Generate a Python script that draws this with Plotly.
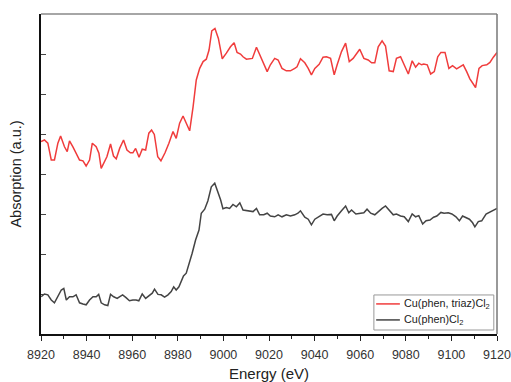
import plotly.graph_objects as go

# Energy (eV) and absorption (a.u.)
energy_red = [8920.0, 8921.5, 8923.0, 8924.5, 8925.9, 8927.4, 8928.6, 8930.3, 8931.5, 8932.5,
              8934.0, 8935.4, 8936.9, 8938.4, 8939.8, 8941.3, 8942.5, 8944.2, 8945.4, 8946.4,
              8947.9, 8948.9, 8950.5, 8951.8, 8953.0, 8954.5, 8956.2, 8957.7, 8959.2, 8960.3,
              8961.5, 8963.0, 8964.4, 8965.9, 8967.3, 8968.5, 8969.7, 8971.2, 8972.6, 8974.4,
              8976.1, 8977.9, 8979.3, 8980.8, 8982.3, 8983.7, 8985.2, 8986.7, 8988.1, 8989.6,
              8991.1, 8992.5, 8993.7, 8994.9, 8996.3, 8997.8, 8999.5, 9001.3, 9003.1, 9004.7,
              9006.0, 9007.5, 9008.6, 9010.1, 9012.7, 9014.5, 9015.9, 9017.7, 9019.2, 9020.6,
              9022.5, 9024.0, 9025.7, 9027.6, 9029.4, 9031.3, 9032.3, 9033.8, 9035.7, 9037.2,
              9038.6, 9040.1, 9042.0, 9043.7, 9045.2, 9047.0, 9048.6, 9049.9, 9051.8, 9053.6,
              9055.2, 9056.9, 9058.4, 9059.8, 9061.6, 9063.5, 9065.0, 9066.4, 9067.9, 9069.6,
              9071.1, 9072.7, 9074.5, 9075.9, 9077.7, 9079.3, 9081.1, 9082.8, 9084.3, 9085.7,
              9086.9, 9087.9, 9089.4, 9090.9, 9092.5, 9094.0, 9095.4, 9097.2, 9098.9, 9100.5,
              9102.3, 9103.7, 9105.2, 9106.7, 9108.1, 9109.6, 9110.6, 9112.1, 9113.5, 9115.5,
              9116.9, 9118.4, 9120.0]
absorption_red = [4.81, 4.85, 4.77, 4.35, 4.35, 4.77, 4.95, 4.68, 4.56, 4.83,
                  4.68, 4.52, 4.35, 4.33, 4.20, 4.35, 4.77, 4.68, 4.52, 4.14,
                  4.31, 4.43, 4.75, 4.45, 4.38, 4.64, 4.85, 4.60, 4.53, 4.53,
                  4.64, 4.42, 4.62, 4.60, 5.02, 5.10, 4.99, 4.43, 4.33, 4.53,
                  4.77, 5.06, 4.89, 5.27, 5.45, 5.25, 5.08, 5.68, 6.35, 6.64,
                  6.81, 6.87, 7.10, 7.58, 7.64, 7.39, 6.88, 7.02, 7.18, 7.28,
                  7.04, 7.00, 6.93, 6.87, 6.89, 7.17, 6.98, 6.73, 6.56, 6.73,
                  6.89, 6.85, 6.64, 6.58, 6.58, 6.64, 6.68, 6.88, 6.78, 6.64,
                  6.48, 6.64, 6.74, 6.92, 6.93, 6.89, 6.48, 6.73, 7.06, 7.27,
                  6.81, 6.89, 7.00, 7.12, 6.89, 6.85, 6.78, 6.78, 7.18, 7.33,
                  7.20, 6.58, 6.56, 6.89, 6.93, 6.73, 6.50, 6.83, 6.67, 6.77,
                  6.73, 6.75, 6.73, 6.50, 6.56, 6.93, 7.04, 7.04, 6.64, 6.71,
                  6.63, 6.68, 6.73, 6.56, 6.38, 6.25, 6.16, 6.64, 6.71, 6.73,
                  6.79, 6.92, 7.04]

energy_gray = [8920.1, 8921.5, 8923.0, 8924.5, 8925.9, 8927.4, 8928.9, 8930.0, 8931.1, 8932.5,
               8934.0, 8935.4, 8936.9, 8938.4, 8939.8, 8941.3, 8942.8, 8944.2, 8945.3, 8946.4,
               8947.9, 8949.3, 8950.5, 8951.9, 8953.4, 8954.4, 8955.8, 8957.3, 8958.8, 8960.3,
               8961.7, 8962.9, 8964.4, 8965.9, 8967.3, 8968.8, 8969.8, 8971.3, 8972.7, 8974.2,
               8975.7, 8977.1, 8978.2, 8979.3, 8980.5, 8981.5, 8982.5, 8983.7, 8984.9, 8986.3,
               8987.8, 8989.3, 8990.3, 8991.8, 8993.2, 8994.7, 8996.2, 8997.6, 8998.8, 8999.8,
               9001.3, 9002.7, 9004.2, 9005.7, 9007.2, 9008.6, 9010.1, 9011.5, 9013.0, 9014.5,
               9015.9, 9017.7, 9019.2, 9020.6, 9022.5, 9024.0, 9025.7, 9027.6, 9029.4, 9031.3,
               9032.7, 9033.8, 9035.7, 9037.2, 9038.6, 9040.1, 9042.0, 9043.7, 9045.5, 9047.4,
               9048.6, 9049.9, 9051.8, 9053.6, 9055.0, 9056.2, 9058.1, 9059.8, 9061.6, 9063.0,
               9064.6, 9066.4, 9067.9, 9069.6, 9071.1, 9072.7, 9074.5, 9075.9, 9077.7, 9079.3,
               9081.1, 9082.8, 9084.3, 9085.7, 9087.4, 9088.9, 9090.6, 9092.2, 9093.6, 9095.4,
               9096.8, 9098.6, 9100.2, 9102.0, 9103.5, 9104.9, 9106.4, 9107.9, 9109.3, 9110.3,
               9111.8, 9113.3, 9115.2, 9116.7, 9118.1, 9120.0]
absorption_gray = [0.93, 1.00, 0.98, 0.85, 0.78, 0.95, 1.10, 1.14, 0.85, 0.93,
                   0.93, 0.98, 0.78, 0.75, 0.73, 0.85, 0.93, 0.93, 0.99, 0.78,
                   0.73, 0.71, 0.99, 0.93, 0.89, 0.93, 0.98, 0.91, 0.83, 0.85,
                   0.85, 0.83, 1.00, 0.89, 0.95, 1.02, 1.12, 0.99, 0.98, 0.92,
                   0.98, 1.06, 1.18, 1.10, 1.18, 1.33, 1.45, 1.52, 1.73, 2.02,
                   2.35, 2.60, 3.02, 3.12, 3.33, 3.68, 3.77, 3.56, 3.35, 3.13,
                   3.16, 3.14, 3.24, 3.18, 3.28, 3.10, 3.08, 3.08, 3.06, 3.14,
                   2.98, 2.98, 3.02, 2.95, 2.93, 2.98, 2.93, 2.98, 2.95, 2.98,
                   3.02, 3.08, 2.92, 2.87, 2.73, 2.87, 2.95, 3.00, 2.98, 2.99,
                   2.83, 2.95, 3.08, 3.20, 3.03, 3.10, 3.00, 3.02, 3.03, 3.12,
                   3.02, 2.98, 3.06, 3.14, 3.20, 3.10, 2.98, 3.00, 2.95, 2.93,
                   2.81, 3.00, 2.93, 2.96, 2.75, 2.83, 2.85, 2.92, 2.95, 3.04,
                   3.02, 3.03, 3.00, 2.93, 2.83, 2.95, 2.91, 2.87, 2.78, 2.68,
                   2.81, 2.83, 3.00, 3.04, 3.08, 3.14]

series_names = ["Cu(phen, triaz)Cl<sub>2</sub>", "Cu(phen)Cl<sub>2</sub>"]
series_colors = ["#f03c3c", "#444444"]
x_ticks = [8920, 8940, 8960, 8980, 9000, 9020, 9040, 9060, 9080, 9100, 9120]

fig = go.Figure()
fig.add_trace(go.Scatter(x=energy_red, y=absorption_red, mode="lines", name=series_names[0],
                         line=dict(color=series_colors[0], width=1.5)))
fig.add_trace(go.Scatter(x=energy_gray, y=absorption_gray, mode="lines", name=series_names[1],
                         line=dict(color=series_colors[1], width=1.5)))

# compact legend box drawn in paper coordinates (Origin-style)
leg_rows = [0.094, 0.044]
shapes = [
    dict(type="line", xref="paper", yref="paper", x0=0, x1=1, y0=1, y1=1,
         line=dict(color="#888888", width=1.5)),
    dict(type="line", xref="paper", yref="paper", x0=1, x1=1, y0=0, y1=1,
         line=dict(color="#777777", width=1.5)),
    dict(type="rect", xref="paper", yref="paper", x0=0.730, x1=0.993, y0=0.0125, y1=0.122,
         line=dict(color="#999999", width=1), fillcolor="white", layer="above"),
]
annotations = []
for name, color, yy in zip(series_names, series_colors, leg_rows):
    shapes.append(dict(type="line", xref="paper", yref="paper", x0=0.735, x1=0.787, y0=yy, y1=yy,
                       line=dict(color=color, width=1.5), layer="above"))
    annotations.append(dict(text=name, xref="paper", yref="paper", x=0.792, y=yy,
                            xanchor="left", yanchor="middle", showarrow=False,
                            font=dict(size=10.8, color="#222222")))

fig.update_layout(
    width=511, height=382,
    margin=dict(l=41, r=14, t=14, b=48, autoexpand=False),
    paper_bgcolor="white", plot_bgcolor="white",
    font=dict(family="Liberation Sans, Arial, sans-serif", color="#222222"),
    showlegend=False,
    xaxis=dict(range=[8920, 9120], tickvals=x_ticks, ticktext=[str(v) for v in x_ticks],
               automargin=False,
               ticks="outside", ticklen=5, tickwidth=1, tickcolor="#222222",
               ticklabelstandoff=3,
               minor=dict(dtick=10, ticks="outside", ticklen=3, tickcolor="#222222"),
               showline=True, linecolor="#111111", linewidth=1.5,
               showgrid=False, zeroline=False,
               tickfont=dict(size=12.5, color="#333333"),
               title=dict(text="Energy (eV)", font=dict(size=15, color="#222222"), standoff=12)),
    yaxis=dict(range=[0, 8], dtick=1, ticks="inside", ticklen=5, tickcolor="#444444",
               automargin=False,
               showticklabels=False, showline=True, linecolor="#111111", linewidth=1.5,
               showgrid=False, zeroline=False,
               title=dict(text="Absorption (a.u.)", font=dict(size=14.5, color="#222222"), standoff=14)),
    shapes=shapes,
    annotations=annotations,
)

fig.write_html("out.html", config={"displayModeBar": False},
               post_script="document.body.style.margin='0';")
